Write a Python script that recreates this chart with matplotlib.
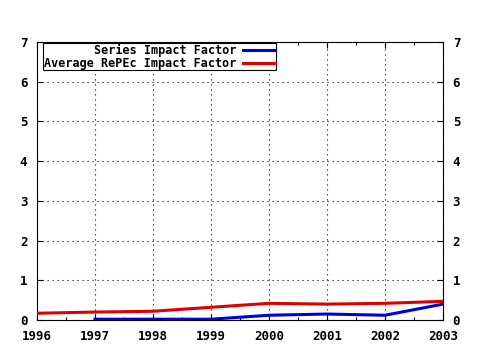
import matplotlib
matplotlib.use("Agg")
import matplotlib.pyplot as plt
from matplotlib.ticker import MultipleLocator

years = [1996, 1997, 1998, 1999, 2000, 2001, 2002, 2003]
series_years = [1997, 1998, 1999, 2000, 2001, 2002, 2003]
series_if = [0.02, 0.02, 0.02, 0.12, 0.15, 0.12, 0.40]
repec_if = [0.17, 0.20, 0.22, 0.32, 0.42, 0.40, 0.42, 0.47]

plt.rcParams["font.family"] = "DejaVu Sans Mono"
plt.rcParams["font.weight"] = "bold"

fig = plt.figure(figsize=(4.8, 3.5), dpi=100)
ax = fig.add_axes([37 / 480, 1 - 320 / 350, (443 - 37) / 480, (320 - 42) / 350])

ax.plot(series_years, series_if, color="#0000dd", linewidth=2.2,
        label="Series Impact Factor", zorder=3)
ax.plot(years, repec_if, color="#dd0000", linewidth=2.2,
        label="Average RePEc Impact Factor", zorder=3)

ax.set_xlim(1996, 2003)
ax.set_ylim(0, 7)
ax.xaxis.set_major_locator(MultipleLocator(1))
ax.xaxis.set_minor_locator(MultipleLocator(0.5))
ax.yaxis.set_major_locator(MultipleLocator(1))
ax.grid(True, which="major", color="black", linestyle=(0, (1, 3.5)), linewidth=0.8)
ax.tick_params(which="both", direction="in", top=True, right=True,
               labelright=True, labelsize=9, width=0.8, pad=7)
ax.tick_params(which="major", length=4)
ax.tick_params(which="minor", length=2)
for lab in ax.get_xticklabels() + ax.get_yticklabels():
    lab.set_fontweight("bold")
for s in ax.spines.values():
    s.set_linewidth(0.8)

leg = ax.legend(loc="upper left", markerfirst=False, fancybox=False,
                framealpha=1, edgecolor="black", fontsize=8.5,
                borderpad=0.05, labelspacing=0.0, handlelength=2.7,
                handletextpad=0.6, borderaxespad=0.1,
                bbox_to_anchor=(0.012, 1.0))
leg.get_frame().set_linewidth(0.8)
for t in leg.get_texts():
    t.set_fontweight("bold")

fig.savefig("out.png", dpi=100)
